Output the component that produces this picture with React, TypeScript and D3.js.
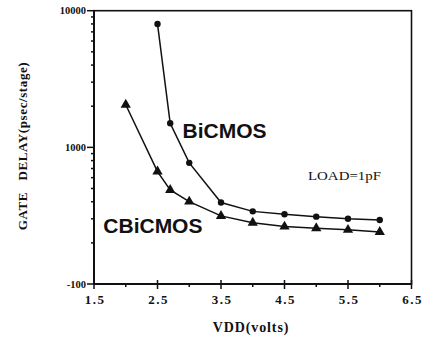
import * as d3 from 'd3';

// supply voltage (V)
const biVdd = [2.5, 2.7, 3.0, 3.5, 4.0, 4.5, 5.0, 5.5, 6.0];
const biDelay = [8000, 1500, 770, 395, 340, 324, 311, 300, 294];

const cbiVdd = [2.0, 2.5, 2.7, 3.0, 3.5, 4.0, 4.5, 5.0, 5.5, 6.0];
const cbiDelay = [2050, 665, 488, 401, 315, 281, 263, 256, 249, 240];

const xTicks = [1.5, 2.5, 3.5, 4.5, 5.5, 6.5];
const xMinorTicks = [2, 3, 4, 5, 6];
const yTicks = [10000, 1000, 100];
const yTickLabels = ['10000', '1000', '-100'];

const W = 425;
const H = 342;
const M = { left: 94, right: 13.5, top: 10.7, bottom: 58 };

const SERIF = '"Liberation Serif", "Times New Roman", serif';
const SANS = '"Liberation Sans", Arial, sans-serif';

export default function App() {
  const x = d3.scaleLinear().domain([1.5, 6.5]).range([M.left, W - M.right]);
  const y = d3.scaleLog().domain([100, 10000]).range([H - M.bottom, M.top]);

  const line = d3
    .line<[number, number]>()
    .x((d) => x(d[0]))
    .y((d) => y(d[1]));

  const bi: [number, number][] = biVdd.map((v, i) => [v, biDelay[i]]);
  const cbi: [number, number][] = cbiVdd.map((v, i) => [v, cbiDelay[i]]);

  // minor log ticks 2..9 per decade
  const yMinor: number[] = [];
  [100, 1000].forEach((dec) => {
    for (let k = 2; k <= 9; k++) yMinor.push(dec * k);
  });

  const tri = d3.symbol().type(d3.symbolTriangle).size(46)();

  const x0 = M.left;
  const x1 = W - M.right;
  const y0 = H - M.bottom;
  const y1 = M.top;

  return (
    <svg
      width={W}
      height={H}
      viewBox={`0 0 ${W} ${H}`}
      style={{ position: 'absolute', left: 0, top: 0, background: '#fff' }}
    >
      {/* frame */}
      <rect x={x0} y={y1} width={x1 - x0} height={y0 - y1} fill="none" stroke="#111" strokeWidth={1.6} />
      <line x1={x0} x2={x0} y1={y1} y2={y0} stroke="#111" strokeWidth={2} />
      <line x1={x0} x2={x1} y1={y0} y2={y0} stroke="#111" strokeWidth={2} />

      {/* y ticks */}
      {yTicks.map((t, i) => (
        <g key={t}>
          <line x1={x0 - 7} x2={x0 + 1} y1={y(t)} y2={y(t)} stroke="#111" strokeWidth={1.5} />
          <text
            x={x0 - 8}
            y={y(t)}
            dy="0.35em"
            textAnchor="end"
            fontFamily={SERIF}
            fontWeight="bold"
            fontSize={10.5}
            fill="#111"
          >
            {yTickLabels[i]}
          </text>
        </g>
      ))}
      {yMinor.map((t) => (
        <line key={t} x1={x0 - 3} x2={x0} y1={y(t)} y2={y(t)} stroke="#111" strokeWidth={1.5} />
      ))}

      {/* x ticks */}
      {xTicks.map((t) => (
        <g key={t}>
          <line x1={x(t)} x2={x(t)} y1={y0 - 4} y2={y0 + 5} stroke="#111" strokeWidth={1.5} />
          <text
            x={x(t) + 1}
            y={y0 + 20}
            textAnchor="middle"
            fontFamily={SERIF}
            fontWeight="bold"
            fontSize={13}
            letterSpacing={1.5}
            fill="#111"
          >
            {t.toFixed(1)}
          </text>
        </g>
      ))}
      {xMinorTicks.map((t) => (
        <line key={t} x1={x(t)} x2={x(t)} y1={y0} y2={y0 + 3} stroke="#111" strokeWidth={1.5} />
      ))}

      {/* series */}
      <path d={line(bi) || ''} fill="none" stroke="#111" strokeWidth={1.5} />
      <path d={line(cbi) || ''} fill="none" stroke="#111" strokeWidth={1.5} />
      {bi.map((d, i) => (
        <circle key={i} cx={x(d[0])} cy={y(d[1])} r={3.2} fill="#111" />
      ))}
      {cbi.map((d, i) => (
        <path key={i} d={tri || ''} transform={`translate(${x(d[0])},${y(d[1])})`} fill="#111" />
      ))}

      {/* annotations */}
      <text x={182.5} y={137.7} fontFamily={SANS} fontWeight="bold" fontSize={21} fill="#111">
        BiCMOS
      </text>
      <text x={103.3} y={233.3} fontFamily={SANS} fontWeight="bold" fontSize={21} fill="#111">
        CBiCMOS
      </text>
      <text
        x={308}
        y={180}
        fontFamily={SERIF}
        fontSize={12}
        textLength={73}
        lengthAdjust="spacingAndGlyphs"
        fill="#111"
      >
        LOAD=1pF
      </text>

      {/* axis titles */}
      <text
        x={251}
        y={331.5}
        textAnchor="middle"
        fontFamily={SERIF}
        fontWeight="bold"
        fontSize={14}
        letterSpacing={0.9}
        fill="#111"
      >
        VDD(volts)
      </text>
      <text
        transform="translate(26.5,146) rotate(-90)"
        textAnchor="middle"
        fontFamily={SERIF}
        fontWeight="bold"
        fontSize={13}
        letterSpacing={0.6}
        style={{ whiteSpace: 'pre' }}
        fill="#111"
      >
        {'GATE   DELAY(psec/stage)'}
      </text>
    </svg>
  );
}
